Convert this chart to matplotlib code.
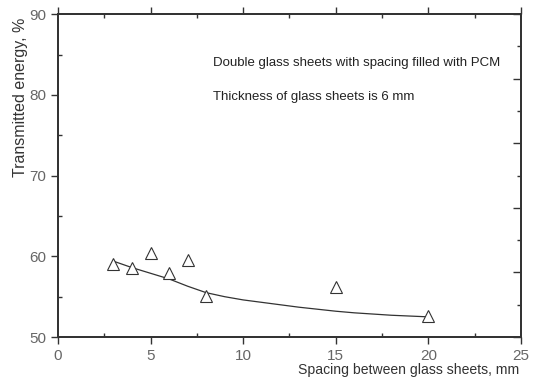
import numpy as np
import matplotlib.pyplot as plt
from matplotlib.ticker import MultipleLocator

plt.rcParams['font.family'] = ['Liberation Sans', 'DejaVu Sans']

# measured transmitted energy for each spacing
spacing = [3, 4, 5, 6, 7, 8, 15, 20]
energy = [59.0, 58.6, 60.4, 57.9, 59.55, 55.1, 56.15, 52.6]

# trend curve through the measurements
curve_x = [3, 4, 5, 6, 7, 8, 9, 10, 11, 12, 13, 14, 15, 16, 17, 18, 19, 20]
curve_y = [59.4, 58.6, 57.9, 57.2, 56.3, 55.5, 55.0, 54.6, 54.3, 54.0,
           53.7, 53.45, 53.2, 53.0, 52.85, 52.7, 52.6, 52.5]

ink = '#333333'
fig = plt.figure(figsize=(5.36, 3.83), dpi=100)
ax = fig.add_axes([0.108, 0.12, 0.864, 0.843])

ax.plot(curve_x, curve_y, color=ink, lw=0.9)
ax.plot(spacing, energy, ls='none', marker='^', ms=8, mfc='white',
        mec=ink, mew=0.8)

ax.set_xlim(0, 25)
ax.set_ylim(50, 90)
ax.xaxis.set_major_locator(MultipleLocator(5))
ax.xaxis.set_minor_locator(MultipleLocator(2.5))
ax.yaxis.set_major_locator(MultipleLocator(10))
ax.yaxis.set_minor_locator(MultipleLocator(5))
ax.tick_params(which='major', direction='out', length=5, width=1,
               color=ink, labelsize=11, labelcolor='#666666',
               top=True, right=False)
ax.tick_params(which='minor', direction='in', length=3, width=1,
               color=ink, top=True, right=False)
for s in ax.spines.values():
    s.set_color(ink)
    s.set_linewidth(1.3)

# secondary right scale, unlabeled
ax2 = ax.twinx()
ax2.set_ylim(0, 5)
ax2.yaxis.set_major_locator(MultipleLocator(1))
ax2.yaxis.set_minor_locator(MultipleLocator(0.5))
ax2.tick_params(which='major', direction='in', length=6, width=1,
                color=ink, labelright=False)
ax2.tick_params(which='minor', direction='in', length=3, width=1,
                color=ink)
for s in ax2.spines.values():
    s.set_color(ink)
    s.set_linewidth(1.3)

ax.text(8.4, 83.9, 'Double glass sheets with spacing filled with PCM',
        fontsize=9.5, color='#222222', va='center')
ax.text(8.4, 79.7, 'Thickness of glass sheets is 6 mm',
        fontsize=9.5, color='#222222', va='center')

fig.text(0.968, 0.015, 'Spacing between glass sheets, mm', ha='right',
         va='bottom', fontsize=10.1, color='#333333')
fig.text(0.038, 0.747, 'Transmitted energy, %', rotation=90, ha='center',
         va='center', fontsize=11.5, color='#333333')

fig.savefig('out.png', dpi=100)
